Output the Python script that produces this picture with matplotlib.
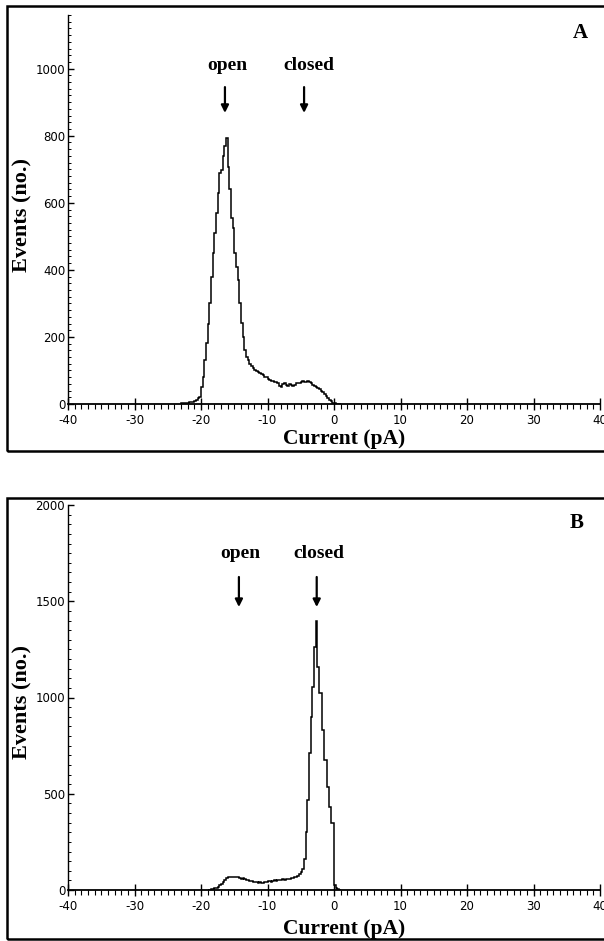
import numpy as np
import matplotlib
matplotlib.use("Agg")
import matplotlib.pyplot as plt
from matplotlib.patches import Rectangle
from matplotlib.ticker import MultipleLocator

plt.rcParams['axes.unicode_minus'] = False

BIN = 0.25

# panel A: histogram counts, 0.25 pA bins starting at -23 pA
a_start = -23.0
a_counts = [
    2, 3, 3, 4, 4, 5, 5, 6,
    8, 12, 18, 20,
    50, 80, 130, 182, 240, 301, 380, 450,
    510, 570, 630, 689, 698, 740, 770, 793,
    707, 640, 555, 525, 450, 410, 370, 300,
    241, 200, 161, 140, 131, 120, 112, 107,
    100, 98, 94, 92, 88, 85, 82, 80,
    76, 72, 70, 68, 66, 66, 62, 55,
    52, 60, 63, 58, 55, 60, 58, 55,
    58, 62, 63, 64, 66, 68, 66, 67,
    68, 66, 62, 58, 55, 51, 48, 44,
    40, 35, 30, 24, 18, 12, 8, 4,
    2, 1, 1, 0,
]

# panel B: histogram counts, 0.25 pA bins starting at -19 pA
b_start = -19.0
b_counts = [
    1, 2, 3, 5, 8, 12, 18, 25,
    32, 42, 52, 60, 65, 68, 66, 70,
    68, 65, 68, 62, 58, 60, 55, 52,
    50, 48, 45, 42, 44, 40, 38, 42,
    38, 36, 40, 42, 45, 48, 44, 46,
    50, 48, 52, 50, 52, 55, 52, 55,
    58, 55, 60, 62, 65, 70, 75, 85,
    95, 110, 160, 300, 470, 710, 900, 1055,
    1260, 1395, 1160, 1025, 1025, 830, 675, 675,
    535, 430, 350, 350, 25, 8, 3, 1,
]

panels = [
    dict(start=a_start, counts=a_counts, ymax=1160, yminor=20,
         yticks=[0, 200, 400, 600, 800, 1000], letter='A',
         open_x=-16.4, closed_x=-4.5, open_tx=-16.1, closed_tx=-3.8,
         arrow_top=945, arrow_tip=868, text_y=1008, letter_xy=(37.1, 1106),
         rect=[68, 404, 15], frame=(6, 451), xlab_y=439, ylab_y=215),
    dict(start=b_start, counts=b_counts, ymax=2000, yminor=50,
         yticks=[0, 500, 1000, 1500, 2000], letter='B',
         open_x=-14.3, closed_x=-2.6, open_tx=-14.1, closed_tx=-2.3,
         arrow_top=1626, arrow_tip=1470, text_y=1750, letter_xy=(36.5, 1906),
         rect=[68, 890, 505], frame=(498, 939), xlab_y=929, ylab_y=702),
]

W, H = 604, 941
fig = plt.figure(figsize=(W / 100, H / 100), dpi=100)

serif = dict(fontfamily='Liberation Serif', fontweight='bold', color='black')

for p in panels:
    left, bottom, top = p['rect']
    ax = fig.add_axes([left / W, 1 - bottom / H, (600 - left) / W, (bottom - top) / H])

    counts = np.array(p['counts'], dtype=float)
    edges = p['start'] + BIN * np.arange(len(counts) + 1)
    ax.stairs(counts, edges, baseline=0, color='black', lw=1.1)

    ax.set_xlim(-40, 40)
    ax.set_ylim(0, p['ymax'])
    for side in ('top', 'right'):
        ax.spines[side].set_visible(False)
    ax.spines['left'].set_linewidth(1.0)
    ax.spines['bottom'].set_linewidth(1.3)

    ax.xaxis.set_major_locator(MultipleLocator(10))
    ax.xaxis.set_minor_locator(MultipleLocator(1))
    ax.set_yticks(p['yticks'])
    ax.yaxis.set_minor_locator(MultipleLocator(p['yminor']))
    ax.tick_params(axis='x', which='major', direction='inout', length=8, width=1,
                   labelsize=8.5, pad=3.5)
    ax.tick_params(axis='x', which='minor', direction='out', length=3.5, width=0.8)
    ax.tick_params(axis='y', which='major', direction='in', length=4, width=1,
                   labelsize=8.5, pad=2)
    ax.tick_params(axis='y', which='minor', direction='in', length=1.8, width=0.7)

    for label, ax_x, tx in (('open', p['open_x'], p['open_tx']),
                            ('closed', p['closed_x'], p['closed_tx'])):
        ax.annotate('', xy=(ax_x, p['arrow_tip']), xytext=(ax_x, p['arrow_top']),
                    arrowprops=dict(arrowstyle='-|>', color='black', lw=1.6,
                                    mutation_scale=11, shrinkA=0, shrinkB=0))
        ax.text(tx, p['text_y'], label, ha='center', va='center', fontsize=14, **serif)

    ax.text(*p['letter_xy'], p['letter'], ha='center', va='center', fontsize=15, **serif)

    ftop, fbot = p['frame']
    fig.add_artist(Rectangle((7 / W, 1 - fbot / H), 1.2, (fbot - ftop) / H,
                             transform=fig.transFigure, fill=False, lw=1.8,
                             edgecolor='black'))
    fig.text(344 / W, 1 - p['xlab_y'] / H, 'Current (pA)', ha='center', va='center',
             fontsize=15.5, **serif)
    fig.text(22 / W, 1 - p['ylab_y'] / H, 'Events (no.)', ha='center', va='center',
             rotation=90, fontsize=16, **serif)

fig.savefig('out.png', dpi=100)
